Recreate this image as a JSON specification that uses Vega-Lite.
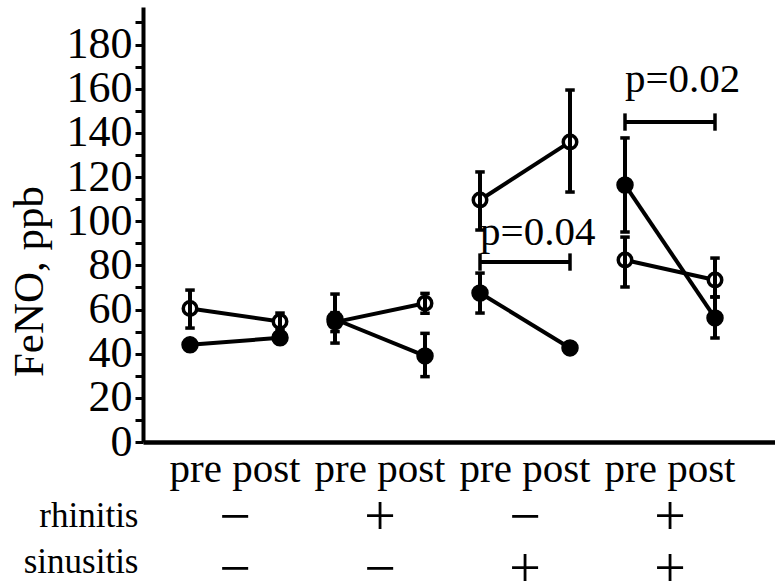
{
  "$schema": "https://vega.github.io/schema/vega-lite/v6.json",
  "width": 632,
  "height": 435,
  "autosize": {"type": "none"},
  "padding": {"left": 143, "top": 7, "right": 0, "bottom": 141},
  "background": "white",
  "config": {"view": {"stroke": null}, "font": "Liberation Serif", "axis": {"grid": false}},
  "datasets": {
    "obs": [
      {"group": "−|−", "time": "pre", "series": "open", "value": 60.5, "lo": 51.6, "hi": 68.8},
      {"group": "−|−", "time": "post", "series": "open", "value": 54.6, "lo": 50.8, "hi": 58.4},
      {"group": "−|−", "time": "pre", "series": "filled", "value": 44, "lo": 43, "hi": 45},
      {"group": "−|−", "time": "post", "series": "filled", "value": 47.2, "lo": 45.5, "hi": 49},
      {"group": "+|−", "time": "pre", "series": "open", "value": 54.3, "lo": 50, "hi": 58.6},
      {"group": "+|−", "time": "post", "series": "open", "value": 62.8, "lo": 58.3, "hi": 67.3},
      {"group": "+|−", "time": "pre", "series": "filled", "value": 55.6, "lo": 44.8, "hi": 67},
      {"group": "+|−", "time": "post", "series": "filled", "value": 39, "lo": 29.6, "hi": 49.2},
      {"group": "−|+", "time": "pre", "series": "open", "value": 109.6, "lo": 96, "hi": 122.3},
      {"group": "−|+", "time": "post", "series": "open", "value": 135.9, "lo": 113.2, "hi": 159.4},
      {"group": "−|+", "time": "pre", "series": "filled", "value": 67.5, "lo": 58.4, "hi": 76.5},
      {"group": "−|+", "time": "post", "series": "filled", "value": 42.6, "lo": 41, "hi": 44.2},
      {"group": "+|+", "time": "pre", "series": "open", "value": 82.4, "lo": 70.2, "hi": 92.8},
      {"group": "+|+", "time": "post", "series": "open", "value": 73.4, "lo": 65.7, "hi": 83.3},
      {"group": "+|+", "time": "pre", "series": "filled", "value": 116.4, "lo": 95.1, "hi": 137.7},
      {"group": "+|+", "time": "post", "series": "filled", "value": 56.2, "lo": 47.1, "hi": 65.7}
    ],
    "brackets": [
      {"group": "−|+", "time": "pre", "y": 81.5},
      {"group": "−|+", "time": "post", "y": 81.5},
      {"group": "+|+", "time": "pre", "y": 144.9},
      {"group": "+|+", "time": "post", "y": 144.9}
    ],
    "pvals": [
      {"group": "−|+", "time": "pre", "y": 89.2, "label": "p=0.04"},
      {"group": "+|+", "time": "pre", "y": 158.5, "label": "p=0.02"}
    ]
  },
  "layer": [
    {
      "data": {"name": "obs"},
      "mark": {"type": "line", "color": "black", "strokeWidth": 4},
      "encoding": {
        "x": {"field": "group", "type": "nominal",
          "scale": {"domain": ["−|−", "+|−", "−|+", "+|+"], "paddingInner": 0.3793, "paddingOuter": 0.369, "align": 0.4393, "round": false},
          "axis": {"title": null, "orient": "bottom", "domainColor": "black", "domainWidth": 4.5, "ticks": false, "tickSize": 0,
            "labelExpr": "'pre post'", "labelFont": "Liberation Serif", "labelFontSize": 41, "labelColor": "black",
            "labelBaseline": "alphabetic", "labelPadding": 39, "labelAngle": 0}},
        "xOffset": {"field": "time", "type": "nominal", "scale": {"type": "point", "domain": ["pre", "post"], "padding": 0}},
        "y": {"field": "value", "type": "quantitative", "scale": {"domain": [0, 197], "nice": false},
          "axis": {"title": "FeNO, ppb", "orient": "left", "values": [0, 10, 20, 30, 40, 50, 60, 70, 80, 90, 100, 110, 120, 130, 140, 150, 160, 170, 180, 190],
            "labelExpr": "datum.value % 20 === 0 ? datum.label : ''", "tickSize": 8, "tickWidth": 3, "tickColor": "black",
            "domainColor": "black", "domainWidth": 4, "labelFont": "Liberation Serif", "labelFontSize": 44, "labelColor": "black",
            "labelPadding": 3, "labelOverlap": false, "labelFlush": false,
            "titleFont": "Liberation Serif", "titleFontSize": 43, "titleFontWeight": "normal", "titleColor": "black",
            "titleX": -101, "titleY": 274, "titleAngle": 270, "titleBaseline": "alphabetic", "titleAlign": "center"}},
        "detail": [{"field": "group"}, {"field": "series"}]
      }
    },
    {
      "data": {"name": "obs"},
      "transform": [{"filter": "datum.series === 'open'"}],
      "mark": {"type": "point", "shape": "circle", "filled": true, "fill": "white", "stroke": "black", "strokeWidth": 3.5, "size": 182, "opacity": 1},
      "encoding": {
        "x": {"field": "group", "type": "nominal", "axis": null,
          "scale": {"domain": ["−|−", "+|−", "−|+", "+|+"], "paddingInner": 0.3793, "paddingOuter": 0.369, "align": 0.4393, "round": false}},
        "xOffset": {"field": "time", "type": "nominal", "scale": {"type": "point", "domain": ["pre", "post"], "padding": 0}},
        "y": {"field": "value", "type": "quantitative", "axis": null}
      }
    },
    {
      "data": {"name": "obs"},
      "mark": {"type": "rule", "color": "black", "strokeWidth": 4},
      "encoding": {
        "x": {"field": "group", "type": "nominal", "axis": null,
          "scale": {"domain": ["−|−", "+|−", "−|+", "+|+"], "paddingInner": 0.3793, "paddingOuter": 0.369, "align": 0.4393, "round": false}},
        "xOffset": {"field": "time", "type": "nominal", "scale": {"type": "point", "domain": ["pre", "post"], "padding": 0}},
        "y": {"field": "lo", "type": "quantitative", "axis": null},
        "y2": {"field": "hi"}
      }
    },
    {
      "data": {"name": "obs"},
      "transform": [{"fold": ["lo", "hi"], "as": ["end", "endval"]}],
      "mark": {"type": "point", "shape": "stroke", "filled": false, "stroke": "black", "strokeWidth": 3.5, "size": 90, "opacity": 1},
      "encoding": {
        "x": {"field": "group", "type": "nominal", "axis": null,
          "scale": {"domain": ["−|−", "+|−", "−|+", "+|+"], "paddingInner": 0.3793, "paddingOuter": 0.369, "align": 0.4393, "round": false}},
        "xOffset": {"field": "time", "type": "nominal", "scale": {"type": "point", "domain": ["pre", "post"], "padding": 0}},
        "y": {"field": "endval", "type": "quantitative", "axis": null}
      }
    },
    {
      "data": {"name": "obs"},
      "transform": [{"filter": "datum.series === 'filled'"}],
      "mark": {"type": "point", "shape": "circle", "filled": true, "fill": "black", "stroke": "black", "strokeWidth": 1.5, "size": 256, "opacity": 1},
      "encoding": {
        "x": {"field": "group", "type": "nominal", "axis": null,
          "scale": {"domain": ["−|−", "+|−", "−|+", "+|+"], "paddingInner": 0.3793, "paddingOuter": 0.369, "align": 0.4393, "round": false}},
        "xOffset": {"field": "time", "type": "nominal", "scale": {"type": "point", "domain": ["pre", "post"], "padding": 0}},
        "y": {"field": "value", "type": "quantitative", "axis": null}
      }
    },
    {
      "data": {"name": "brackets"},
      "mark": {"type": "line", "color": "black", "strokeWidth": 4},
      "encoding": {
        "x": {"field": "group", "type": "nominal",
          "scale": {"domain": ["−|−", "+|−", "−|+", "+|+"], "paddingInner": 0.3793, "paddingOuter": 0.369, "align": 0.4393, "round": false},
          "axis": {"orient": "bottom", "domain": false, "ticks": false, "tickSize": 0,
            "labelExpr": "split(datum.value, '|')", "labelFont": "Liberation Serif", "labelFontSize": 56, "labelLineHeight": 52,
            "labelColor": "black", "labelBaseline": "alphabetic", "labelPadding": 92, "labelAngle": 0,
            "title": ["rhinitis", "sinusitis"], "titleFont": "Liberation Serif", "titleFontSize": 35, "titleFontWeight": "normal",
            "titleColor": "black", "titleAlign": "right", "titleBaseline": "alphabetic", "titleX": -5, "titleY": 84, "titleLineHeight": 46, "titleAngle": 0}},
        "xOffset": {"field": "time", "type": "nominal", "scale": {"type": "point", "domain": ["pre", "post"], "padding": 0}},
        "y": {"field": "y", "type": "quantitative", "axis": null},
        "detail": {"field": "group"}
      }
    },
    {
      "data": {"name": "brackets"},
      "mark": {"type": "point", "shape": "M0,-1L0,1", "filled": false, "stroke": "black", "strokeWidth": 3.5, "size": 300, "opacity": 1},
      "encoding": {
        "x": {"field": "group", "type": "nominal", "axis": null,
          "scale": {"domain": ["−|−", "+|−", "−|+", "+|+"], "paddingInner": 0.3793, "paddingOuter": 0.369, "align": 0.4393, "round": false}},
        "xOffset": {"field": "time", "type": "nominal", "scale": {"type": "point", "domain": ["pre", "post"], "padding": 0}},
        "y": {"field": "y", "type": "quantitative", "axis": null}
      }
    },
    {
      "data": {"name": "pvals"},
      "mark": {"type": "text", "align": "left", "baseline": "alphabetic", "font": "Liberation Serif", "fontSize": 41, "color": "black"},
      "encoding": {
        "x": {"field": "group", "type": "nominal", "axis": null,
          "scale": {"domain": ["−|−", "+|−", "−|+", "+|+"], "paddingInner": 0.3793, "paddingOuter": 0.369, "align": 0.4393, "round": false}},
        "xOffset": {"field": "time", "type": "nominal", "scale": {"type": "point", "domain": ["pre", "post"], "padding": 0}},
        "y": {"field": "y", "type": "quantitative", "axis": null},
        "text": {"field": "label"}
      }
    }
  ],
  "resolve": {"axis": {"x": "independent", "y": "independent"}}
}
